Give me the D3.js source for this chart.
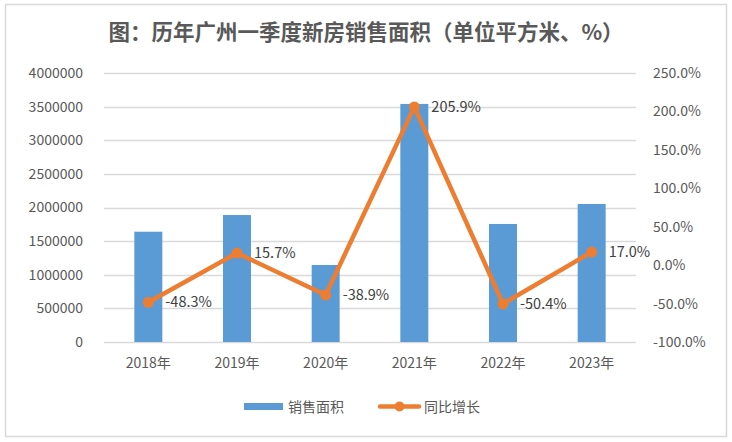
<!DOCTYPE html>
<html><head><meta charset="utf-8">
<script src="https://cdn.jsdelivr.net/npm/d3@7"></script>
<style>body{margin:0;background:#fff}svg{display:block}</style>
</head><body>
<script>
const categories = ["2018年","2019年","2020年","2021年","2022年","2023年"];
const salesArea = [1640000, 1888000, 1145000, 3540000, 1755000, 2052000];
const growth = [-48.3, 15.7, -38.9, 205.9, -50.4, 17.0];
const leftTicks = [0,500000,1000000,1500000,2000000,2500000,3000000,3500000,4000000];
const rightTicks = [-100,-50,0,50,100,150,200,250];

const W=732,H=442;
const svg=d3.select("body").append("svg").attr("width",W).attr("height",H);
const font="'Noto Sans CJK SC','Noto Sans',sans-serif";
svg.append("rect").attr("x",5.5).attr("y",4.5).attr("width",721).attr("height",432)
  .attr("fill","#fff").attr("stroke","#d9d9d9").attr("stroke-width",1.5);

const plot={l:104,r:636,t:73,b:342};
const x=d3.scaleBand().domain(categories).range([plot.l,plot.r]);
const yL=d3.scaleLinear().domain([0,4000000]).range([plot.b,plot.t]);
const yR=d3.scaleLinear().domain([-100,250]).range([plot.b,plot.t]);

svg.append("text").attr("x",366).attr("y",40).attr("text-anchor","middle")
  .attr("font-family",font).attr("font-weight","bold").attr("font-size",21.5).attr("fill","#595959")
  .text("图：历年广州一季度新房销售面积（单位平方米、%）");

// gridlines
svg.append("g").selectAll("line").data(leftTicks).join("line")
  .attr("x1",plot.l).attr("x2",plot.r).attr("y1",d=>Math.round(yL(d))+0.5).attr("y2",d=>Math.round(yL(d))+0.5)
  .attr("stroke","#d9d9d9").attr("stroke-width",1.3);

// left axis
const gl=svg.append("g").attr("transform",`translate(${plot.l},0)`)
  .call(d3.axisLeft(yL).tickValues(leftTicks).tickSize(0).tickPadding(21).tickFormat(d=>String(d)));
gl.select(".domain").remove();
gl.selectAll("text").attr("font-family",font).attr("font-size",14).attr("fill","#595959");

// right axis
const gr=svg.append("g").attr("transform",`translate(${plot.r},0)`)
  .call(d3.axisRight(yR).tickValues(rightTicks).tickSize(0).tickPadding(17).tickFormat(d=>d.toFixed(1)+"%"));
gr.select(".domain").remove();
gr.selectAll("text").attr("font-family",font).attr("font-size",14).attr("fill","#595959");

// x axis
const gx=svg.append("g").attr("transform",`translate(0,${plot.b})`)
  .call(d3.axisBottom(x).tickSize(0).tickPadding(16));
gx.select(".domain").remove();
gx.selectAll("text").attr("font-family",font).attr("font-size",14).attr("fill","#595959");

// bars
const bw=28;
svg.append("g").selectAll("rect").data(salesArea).join("rect")
  .attr("x",(d,i)=>x(categories[i])+x.bandwidth()/2-bw/2).attr("width",bw)
  .attr("y",d=>yL(d)).attr("height",d=>plot.b-yL(d)).attr("fill","#5B9BD5");

// line
const line=d3.line().x((d,i)=>x(categories[i])+x.bandwidth()/2).y(d=>yR(d));
svg.append("path").datum(growth).attr("d",line).attr("fill","none")
  .attr("stroke","#ED7D31").attr("stroke-width",4.5).attr("stroke-linejoin","round").attr("stroke-linecap","round");
svg.append("g").selectAll("circle").data(growth).join("circle")
  .attr("cx",(d,i)=>x(categories[i])+x.bandwidth()/2).attr("cy",d=>yR(d)).attr("r",5.5).attr("fill","#ED7D31");
svg.append("g").selectAll("text").data(growth).join("text")
  .attr("x",(d,i)=>x(categories[i])+x.bandwidth()/2+17).attr("y",d=>yR(d)+5)
  .attr("font-family",font).attr("font-size",14.5).attr("fill","#404040")
  .text(d=>d.toFixed(1)+"%");

// legend
const lg=svg.append("g");
lg.append("rect").attr("x",244).attr("y",403).attr("width",39).attr("height",7).attr("fill","#5B9BD5");
lg.append("text").attr("x",288).attr("y",412).attr("font-family",font).attr("font-size",14).attr("fill","#595959").text("销售面积");
lg.append("line").attr("x1",380).attr("x2",419).attr("y1",406.5).attr("y2",406.5).attr("stroke","#ED7D31").attr("stroke-width",4.5).attr("stroke-linecap","round");
lg.append("circle").attr("cx",399.5).attr("cy",406.5).attr("r",5).attr("fill","#ED7D31");
lg.append("text").attr("x",424).attr("y",412).attr("font-family",font).attr("font-size",14).attr("fill","#595959").text("同比增长");
</script>
</body></html>
